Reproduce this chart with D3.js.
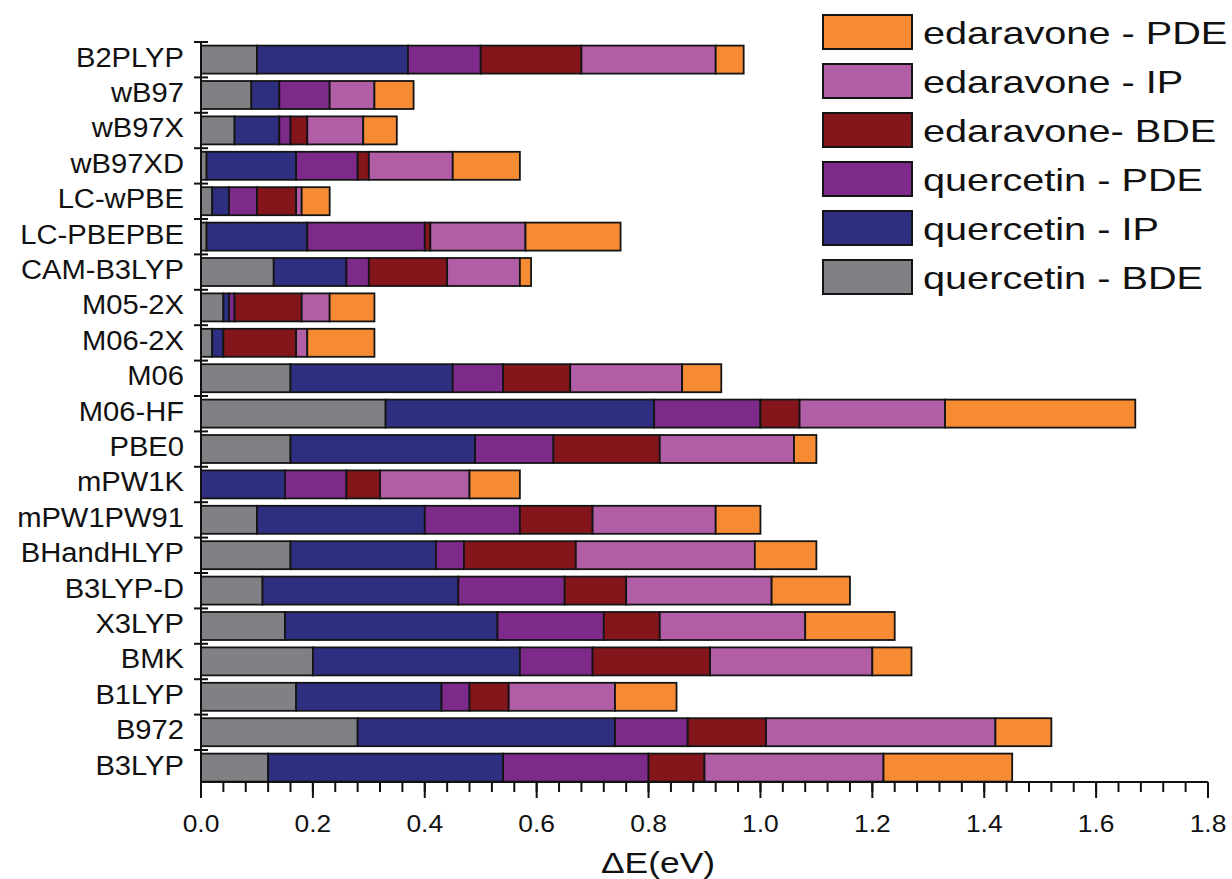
<!DOCTYPE html>
<html><head><meta charset="utf-8">
<script src="https://cdn.jsdelivr.net/npm/d3@7"></script>
<style>body{margin:0;background:#fff}svg text{font-family:"Liberation Sans",Arial,sans-serif;fill:#111}</style>
</head><body><svg id="c" width="1232" height="879"></svg>
<script>
const categories = ["B2PLYP","wB97","wB97X","wB97XD","LC-wPBE","LC-PBEPBE","CAM-B3LYP","M05-2X","M06-2X","M06","M06-HF","PBE0","mPW1K","mPW1PW91","BHandHLYP","B3LYP-D","X3LYP","BMK","B1LYP","B972","B3LYP"];
const seriesNames = ["quercetin - BDE","quercetin - IP","quercetin - PDE","edaravone- BDE","edaravone - IP","edaravone - PDE"];
const quercetinBDE = [0.10,0.09,0.06,0.01,0.02,0.01,0.13,0.04,0.02,0.16,0.33,0.16,0.00,0.10,0.16,0.11,0.15,0.20,0.17,0.28,0.12];
const quercetinIP  = [0.27,0.05,0.08,0.16,0.03,0.18,0.13,0.01,0.02,0.29,0.48,0.33,0.15,0.30,0.26,0.35,0.38,0.37,0.26,0.46,0.42];
const quercetinPDE = [0.13,0.09,0.02,0.11,0.05,0.21,0.04,0.01,0.00,0.09,0.19,0.14,0.11,0.17,0.05,0.19,0.19,0.13,0.05,0.13,0.26];
const edaravoneBDE = [0.18,0.00,0.03,0.02,0.07,0.01,0.14,0.12,0.13,0.12,0.07,0.19,0.06,0.13,0.20,0.11,0.10,0.21,0.07,0.14,0.10];
const edaravoneIP  = [0.24,0.08,0.10,0.15,0.01,0.17,0.13,0.05,0.02,0.20,0.26,0.24,0.16,0.22,0.32,0.26,0.26,0.29,0.19,0.41,0.32];
const edaravonePDE = [0.05,0.07,0.06,0.12,0.05,0.17,0.02,0.08,0.12,0.07,0.34,0.04,0.09,0.08,0.11,0.14,0.16,0.07,0.11,0.10,0.23];
const xTicks = ["0.0","0.2","0.4","0.6","0.8","1.0","1.2","1.4","1.6","1.8"];
const colors = ["#808184","#2e2f80","#7e2a8b","#84161b","#b25ea7","#f68b33"];

const seriesArrays = [quercetinBDE,quercetinIP,quercetinPDE,edaravoneBDE,edaravoneIP,edaravonePDE];
const keys = seriesNames;
const table = categories.map((c,i)=>{const o={cat:c}; keys.forEach((k,j)=>o[k]=seriesArrays[j][i]); return o;});
const stacked = d3.stack().keys(keys)(table);

const svg = d3.select("#c");
const x = d3.scaleLinear().domain([0,1.8]).range([201,1208]);
const y = d3.scaleBand().domain(categories).range([42,42+21*35.4]).paddingInner(0).paddingOuter(0);
const barH = 28, barOff = 3.6;
const axisY = 782;

// bars
const g = svg.append("g");
stacked.forEach((s,j)=>{
  g.selectAll(null).data(s.filter(d=>d[1]-d[0]>0.0005)).enter().append("rect")
    .attr("x",d=>x(d[0])).attr("width",d=>x(d[1])-x(d[0]))
    .attr("y",d=>y(d.data.cat)+barOff).attr("height",barH)
    .attr("fill",colors[j]).attr("stroke","#141414").attr("stroke-width",1.8);
});

// y axis
svg.append("line").attr("x1",201).attr("x2",201).attr("y1",42).attr("y2",axisY).attr("stroke","#111").attr("stroke-width",2);
categories.forEach(c=>{
  svg.append("line").attr("x1",194).attr("x2",208).attr("y1",y(c)).attr("y2",y(c)).attr("stroke","#111").attr("stroke-width",2);
  svg.append("text").attr("transform",`translate(184,${y(c)+barOff+barH/2+7}) scale(1.08,1)`)
    .attr("text-anchor","end").attr("font-size",27).text(c);
});

// x axis
const xa = svg.append("g").attr("transform",`translate(0,${axisY})`);
xa.append("line").attr("x1",201).attr("x2",1208).attr("y1",0).attr("y2",0).attr("stroke","#111").attr("stroke-width",2);
const minor = d3.range(0,46).map(i=>i*0.04);
xa.selectAll(null).data(minor).enter().append("line")
  .attr("x1",d=>x(d)).attr("x2",d=>x(d)).attr("y1",0).attr("y2",10).attr("stroke","#111").attr("stroke-width",2);
xa.selectAll(null).data(xTicks).enter().append("line")
  .attr("x1",d=>x(+d)).attr("x2",d=>x(+d)).attr("y1",0).attr("y2",16).attr("stroke","#111").attr("stroke-width",2);
xa.selectAll(null).data(xTicks).enter().append("text")
  .attr("transform",d=>`translate(${x(+d)},50) scale(1.1,1)`).attr("text-anchor","middle").attr("font-size",24).text(d=>d);
svg.append("text").attr("transform","translate(658,873) scale(1.18,1)").attr("text-anchor","middle").attr("font-size",30).text("ΔE(eV)");

// legend (reverse order)
const legendOrder = d3.range(keys.length).reverse();
legendOrder.forEach((j,i)=>{
  const cy = 32 + i*49;
  svg.append("rect").attr("x",823).attr("y",cy-17).attr("width",89).attr("height",34)
    .attr("fill",colors[j]).attr("stroke","#141414").attr("stroke-width",2);
  svg.append("text").attr("transform",`translate(923,${cy+11.5}) scale(1.24,1)`).attr("font-size",32).text(keys[j]);
});
</script></body></html>
